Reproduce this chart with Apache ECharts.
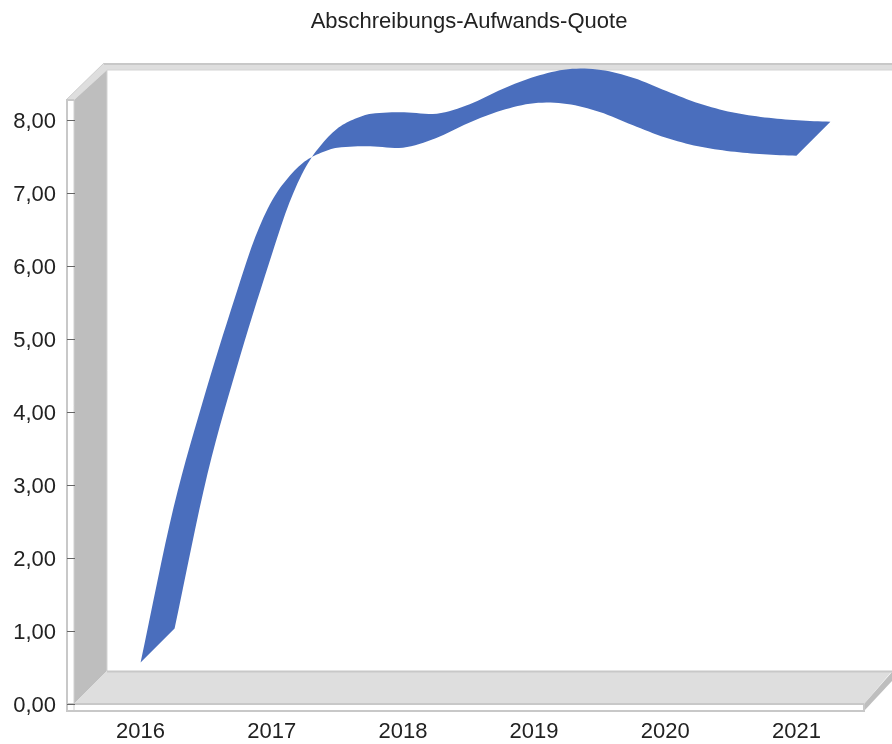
<!DOCTYPE html>
<html><head><meta charset="utf-8">
<style>html,body{margin:0;padding:0;background:#fff}#c{width:892px;height:744px}</style>
<script src="https://cdn.jsdelivr.net/npm/echarts@6/dist/echarts.min.js"></script>
</head><body><div id="c"></div>
<script>
const titleText = 'Abschreibungs-Aufwands-Quote';
const categories = ['2016','2017','2018','2019','2020','2021'];
const yTicks = [0,1,2,3,4,5,6,7,8];
const curveYears = [2016,2016.25,2016.5,2016.75,2016.875,2017,2017.125,2017.25,2017.375,2017.5,2017.75,2018,2018.25,2018.5,2018.75,2019,2019.25,2019.5,2019.75,2020,2020.25,2020.5,2020.75,2021];
const curveValues = [0.57,2.68,4.30,5.74,6.40,6.89,7.21,7.43,7.55,7.62,7.64,7.62,7.75,7.96,8.13,8.23,8.22,8.11,7.93,7.76,7.64,7.57,7.53,7.51];
const ribbonDepth = 34;
const ribbonColor = '#4a6ebd';
const labelFont = {fontFamily:'Liberation Sans',fontSize:22,color:'#222'};

const chart = echarts.init(document.getElementById('c'), null, {renderer:'canvas'});
const deco = (pts, fill) => ({type:'polygon', z:-1, shape:{points:pts}, style:{fill:fill}, silent:true});
const line = (x1,y1,x2,y2,c,w) => ({type:'line', z:-1, shape:{x1,y1,x2,y2}, style:{stroke:c,lineWidth:w||1}, silent:true});

function smoothPath(pts, ts){
  const n=pts.length, out=[];
  const tan=i=>{
    const a=pts[Math.max(i-1,0)], b=pts[Math.min(i+1,n-1)];
    const dt=ts[Math.min(i+1,n-1)]-ts[Math.max(i-1,0)];
    return [(b[0]-a[0])/dt,(b[1]-a[1])/dt];
  };
  for(let i=0;i<n-1;i++){
    const h=ts[i+1]-ts[i], m0=tan(i), m1=tan(i+1), p0=pts[i], p1=pts[i+1];
    for(let k=0;k<8;k++){
      const s=k/8,s2=s*s,s3=s2*s;
      const h00=2*s3-3*s2+1,h10=s3-2*s2+s,h01=-2*s3+3*s2,h11=s3-s2;
      out.push([0,1].map(d=>h00*p0[d]+h10*h*m0[d]+h01*p1[d]+h11*h*m1[d]));
    }
  }
  out.push(pts[n-1]);
  return out;
}

chart.setOption({
  animation:false,
  backgroundColor:'#fff',
  title:{text:titleText,left:464,top:6,textAlign:'center',
    textStyle:{fontFamily:'Liberation Sans',fontSize:22,fontWeight:'normal',color:'#222'}},
  grid:{left:75,top:100,width:787,height:604,containLabel:false},
  xAxis:[{
    type:'category',data:categories,position:'bottom',offset:7,z:3,
    axisLine:{onZero:false,lineStyle:{color:'#c8c8c8',width:2}},
    axisTick:{alignWithLabel:true,inside:true,length:7,lineStyle:{color:'#666',width:1}},
    axisLabel:Object.assign({margin:10},labelFont),
    splitLine:{show:false}
  },{
    type:'value',min:2015.5,max:2021.5,show:false,splitLine:{show:false}
  }],
  yAxis:{
    type:'value',min:0,max:604/73,offset:8,z:3,
    axisLine:{show:true,lineStyle:{color:'#c8c8c8',width:2}},
    axisTick:{show:true,inside:true,length:8,lineStyle:{color:'#666',width:1},customValues:yTicks},
    axisLabel:Object.assign({margin:11,customValues:yTicks,
      formatter:v=>'{a|'+v.toFixed(2).replace('.',',')+'}',
      rich:{a:Object.assign({padding:[4,0,0,0]},labelFont)}},labelFont),
    splitLine:{show:false}
  },
  graphic:{elements:[
    deco([[66,100],[104,63],[892,63],[892,70],[107,70],[74,100]],'#dedede'),
    deco([[74,100],[107,70],[107,671],[74,704]],'#bebebe'),
    deco([[74,704],[107,671],[892,671],[864,704]],'#dedede'),
    deco([[864,704],[892,672],[892,681],[864,711]],'#bebebe'),
    line(104,64,892,64,'#c8c8c8',2),
    line(66,100,104,63,'#cfcfcf',1),
    line(107,70,892,70,'#d4d4d4',1),
    line(107,70,107,671,'#d4d4d4',1),
    line(107,671.5,892,671.5,'#c8c8c8',2),
    line(74,100,74,711,'#d0d0d0',1),
    line(66,100,74,100,'#c8c8c8',2),
    line(66,704,864,704,'#c8c8c8',2),
    line(864,704,864,711,'#c8c8c8',2),
    line(67,100,67,712,'#c8c8c8',2),
    line(66,711,865,711,'#c8c8c8',2)
  ]},
  series:[{
    type:'custom',xAxisIndex:1,yAxisIndex:0,clip:false,z:5,
    coordinateSystem:'cartesian2d',
    encode:{x:0,y:1},
    data:curveYears.map((t,i)=>[t,curveValues[i]]),
    renderItem:(params,api)=>{
      if(params.dataIndex!==0) return {type:'group',children:[]};
      const front=smoothPath(curveYears.map((t,i)=>api.coord([t,curveValues[i]])),curveYears);
      const back=front.map(p=>[p[0]+ribbonDepth,p[1]-ribbonDepth]).reverse();
      return {type:'polygon',shape:{points:front.concat(back)},style:{fill:ribbonColor}};
    }
  }]
});
</script></body></html>
